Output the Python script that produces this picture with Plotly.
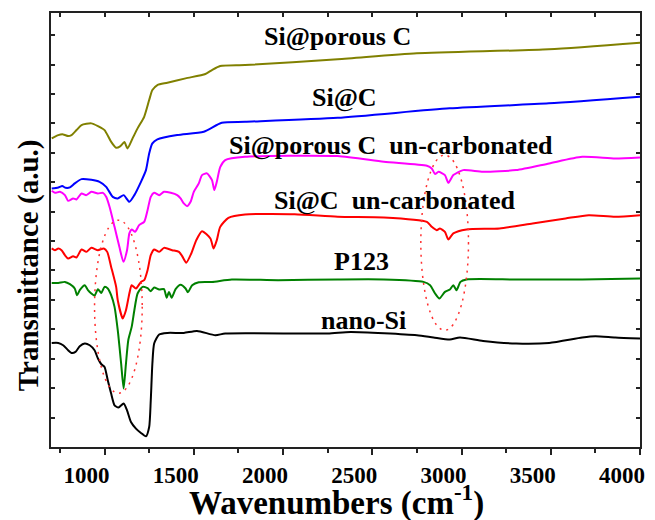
import plotly.graph_objects as go

# ---------------- data (wavenumber in cm^-1, transmittance in a.u.) ----------------
olive_wn = [704, 741, 768, 796, 815, 843, 871, 926, 963, 1000, 1037, 1065, 1089, 1111, 1129, 1157, 1185,
            1222, 1250, 1268, 1296, 1352, 1454, 1565, 1602, 1648, 1787, 2306, 2750, 3489, 4000]
olive_t = [308.4, 311.7, 312.4, 310.7, 311.7, 316.7, 321.7, 323.4, 320.7, 316.7, 305, 299, 300.7, 304.7, 298.4,
           308.4, 318.4, 330, 346.7, 356.7, 361.7, 364, 368.4, 372.7, 376.7, 380.7, 381.7, 387.4, 393.4, 397.4, 404]

blue_wn = [704, 741, 763, 782, 806, 833, 871, 926, 972, 1009, 1046, 1074, 1107, 1139, 1167, 1204, 1232, 1250,
           1268, 1296, 1407, 1556, 1657, 1787, 2306, 2933, 3489, 4000]
blue_t = [258.4, 259.4, 260.7, 259, 259.4, 263.4, 267.7, 267, 265, 260, 250, 248.4, 251.7, 245, 251.7, 265,
          276.7, 293.4, 303.4, 307.4, 311.7, 315, 324, 325, 329, 338.4, 343.4, 350]

magenta_wn = [704, 722, 750, 778, 796, 824, 843, 871, 898, 926, 963, 991, 1009, 1028, 1056, 1083, 1106, 1126,
              1139, 1152, 1171, 1194, 1222, 1241, 1259, 1278, 1306, 1333, 1371, 1407, 1426, 1444, 1463, 1482,
              1500, 1528, 1546, 1574, 1602, 1615, 1629, 1648, 1676, 1787, 2306, 2565, 2806, 2833, 2852, 2871,
              2907, 2926, 2954, 3009, 3120, 3306, 3491, 3676, 3861, 4000]
magenta_t = [256, 254, 255, 251.7, 246, 248.4, 247.4, 253.4, 251.7, 255, 253.4, 254, 250, 240, 220, 200, 185,
             196.7, 213.4, 217.4, 215, 221.7, 225, 236.7, 250, 254, 251.7, 255, 254, 251.7, 248.4, 243.4, 240.7,
             245, 255, 263.4, 271.7, 273.4, 266.7, 256.7, 265, 279.7, 286.7, 290, 290.7, 285, 281, 278.4, 272.7,
             275, 271.7, 264, 271.7, 276.7, 275, 276.7, 283.4, 290, 288.4, 289.4]

red_wn = [704, 722, 741, 759, 778, 796, 824, 843, 871, 898, 926, 963, 996, 1015, 1037, 1065, 1074, 1102, 1120,
          1139, 1152, 1176, 1204, 1222, 1241, 1259, 1278, 1306, 1333, 1379, 1417, 1435, 1458, 1486, 1514, 1546,
          1593, 1611, 1629, 1648, 1694, 1787, 2065, 2306, 2565, 2806, 2833, 2861, 2879, 2907, 2926, 2954, 3028,
          3213, 3398, 3583, 3713, 3861, 4000]
red_t = [198.4, 196.7, 198.4, 196.7, 191.7, 188.4, 190.7, 189.4, 197.4, 195, 199, 196.7, 198.4, 195, 180, 160,
         146.7, 128.4, 136.7, 153.4, 161.7, 158.4, 165, 166.7, 176.7, 191.7, 197.4, 195, 199, 196.7, 195, 190.7,
         184.2, 193.4, 206.7, 215.7, 208.4, 198.4, 206.7, 220, 229, 232.4, 232.7, 230, 229.4, 225, 220, 216.7,
         218.4, 215, 207.4, 213.4, 217.4, 218.4, 223.4, 228.4, 231.7, 230, 231.7]

green_wn = [704, 741, 778, 806, 833, 846, 861, 889, 907, 926, 944, 963, 982, 1000, 1018, 1037, 1056, 1074, 1093,
            1107, 1120, 1133, 1152, 1167, 1185, 1213, 1241, 1259, 1278, 1306, 1333, 1348, 1361, 1376, 1398, 1426,
            1454, 1467, 1491, 1528, 1602, 1713, 1972, 2306, 2565, 2787, 2824, 2852, 2876, 2907, 2935, 2954, 2972,
            2994, 3028, 3306, 3676, 4000]
green_t = [164, 164, 165, 162.7, 158.4, 151.7, 156.7, 161.7, 156.7, 153.4, 151.2, 157.7, 154, 160, 158.4, 151.7,
           140, 116.7, 83.4, 58.4, 83.4, 106.7, 120, 136.7, 153.4, 160, 158.7, 155.7, 159.4, 157.4, 157.7, 149.2,
           155, 149.2, 157.7, 162.2, 158.4, 154.7, 161.7, 164.7, 165, 167.4, 166.7, 167.4, 167.4, 165, 161.7,
           153.4, 148.4, 155, 157.4, 161.7, 156.7, 165, 167.4, 167.4, 167.4, 168.4]

black_wn = [704, 741, 768, 796, 815, 837, 861, 889, 917, 944, 963, 982, 1000, 1018, 1037, 1056, 1078, 1107, 1126,
            1148, 1176, 1204, 1232, 1250, 1259, 1268, 1278, 1306, 1352, 1444, 1518, 1621, 1676, 2250, 2378, 2750,
            2843, 2935, 2991, 3121, 3306, 3491, 3676, 3750, 3861, 4000]
black_t = [104, 104, 101.7, 96.7, 94, 95, 100.7, 103.4, 101.7, 96.7, 88.4, 82.7, 80, 66.7, 53.4, 41.7, 39.4,
           43.4, 36.7, 25, 18.4, 14, 10.7, 20, 46.7, 83.4, 103.4, 112.4, 114, 114, 116, 111.7, 113.4, 113.4, 115,
           111.7, 109.4, 107.4, 109.4, 106, 103.4, 104, 109.4, 110.7, 109.4, 108.4]

series_names = ["Si@porous C", "Si@C", "Si@porous C  un-carbonated", "Si@C  un-carbonated", "P123", "nano-Si"]
series_colors = ["#808000", "#0000FF", "#FF00FF", "#FF0000", "#008000", "#000000"]
series_wn = [olive_wn, blue_wn, magenta_wn, red_wn, green_wn, black_wn]
series_t = [olive_t, blue_t, magenta_t, red_t, green_t, black_t]

# label anchor points (data coordinates)
label_wn = [2305, 2342, 2603, 2625, 2442, 2450]
label_t = [410.7, 349.7, 301.7, 246.7, 185.7, 126.7]

# dotted ellipses (wavenumber range, transmittance range)
ellipse_wn = [(944, 1211), (2772, 3039)]
ellipse_t = [(53.7, 226.7), (116.7, 291.7)]

x_range = [700, 4000]
y_range = [0, 433.7]
x_ticks = [1000, 1500, 2000, 2500, 3000, 3500, 4000]

FONT = "Liberation Serif"

fig = go.Figure()
for i, (name, col, wn, t) in enumerate(zip(series_names, series_colors, series_wn, series_t)):
    fig.add_trace(go.Scatter(
        x=wn, y=t, mode="lines", name=name,
        line=dict(color=col, width=2, shape="spline", smoothing=0.6),
        xaxis="x2" if i == 0 else "x", yaxis="y",
        showlegend=False, hoverinfo="skip",
    ))

for name, xw, yt in zip(series_names, label_wn, label_t):
    fig.add_annotation(x=xw, y=yt, xref="x", yref="y", text=name, showarrow=False,
                       xanchor="center", yanchor="middle",
                       font=dict(family=FONT, size=26, color="black", weight="bold"))

for (x0, x1), (y0, y1) in zip(ellipse_wn, ellipse_t):
    fig.add_shape(type="circle", xref="x", yref="y", x0=x0, x1=x1, y0=y0, y1=y1,
                  line=dict(color="#FF3030", width=1.5, dash="2px,5px"), layer="above")

# axis titles
fig.add_annotation(xref="paper", yref="paper", x=0.484, y=0, yshift=-53, xanchor="center", yanchor="middle",
                   text="Wavenumbers (cm<sup>-1</sup>)", showarrow=False,
                   font=dict(family=FONT, size=33, color="black", weight="bold"))
fig.add_annotation(xref="paper", yref="paper", x=0, xshift=-23, y=0.419, xanchor="center", yanchor="middle",
                   text="Transmittance (a.u.)", textangle=-90, showarrow=False,
                   font=dict(family=FONT, size=29, color="black", weight="bold"))

axis_col = "#222222"
fig.update_layout(
    width=655, height=520,
    margin=dict(l=51, r=10, t=13, b=73),
    paper_bgcolor="white", plot_bgcolor="white",
    xaxis=dict(range=x_range, showgrid=False, zeroline=False, showline=True, linecolor=axis_col, linewidth=2,
               ticks="outside", ticklen=6, tickwidth=1.5, tickcolor=axis_col,
               tickvals=x_ticks, ticktext=[str(v) for v in x_ticks], ticklabelshift=-18,
               tickfont=dict(family=FONT, size=23, color="black", weight="bold"),
               minor=dict(ticks="outside", ticklen=4, tickwidth=1.5, tickcolor=axis_col, dtick=250, tick0=750)),
    xaxis2=dict(range=x_range, matches="x", overlaying="x", side="top", showgrid=False, zeroline=False,
                showline=True, linecolor=axis_col, linewidth=2, ticks="inside", ticklen=4, tickwidth=1.5,
                tickcolor=axis_col, dtick=250, tick0=750, showticklabels=False),
    yaxis=dict(range=y_range, showgrid=False, zeroline=False, showline=True, linecolor=axis_col, linewidth=2,
               mirror="ticks", ticks="inside", ticklen=4, tickwidth=1.5, tickcolor=axis_col,
               tick0=0, dtick=29.4, showticklabels=False),
)

fig.write_html("out.html", config={"displayModeBar": False},
               post_script="document.body.style.margin='0';document.body.style.overflow='hidden';")
